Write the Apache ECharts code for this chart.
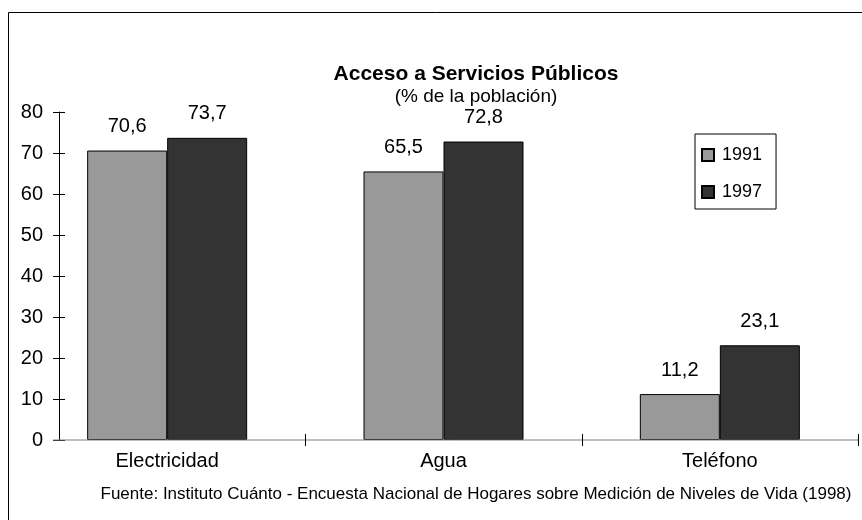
<!DOCTYPE html>
<html>
<head>
<meta charset="utf-8">
<script src="https://cdn.jsdelivr.net/npm/echarts@6/dist/echarts.min.js"></script>
<style>
  html, body { margin: 0; padding: 0; background: #fff; }
  #main { width: 862px; height: 520px; }
</style>
</head>
<body>
<div id="main"></div>
<script>
// datos
var categories = ['Electricidad', 'Agua', 'Teléfono'];
var seriesNames = ['1991', '1997'];
var values1991 = [70.6, 65.5, 11.2];
var values1997 = [73.7, 72.8, 23.1];
var yMin = 0, yMax = 80, yStep = 10;

var FONT = '"Liberation Sans", Arial, sans-serif';
var gridLeft = 29, gridRight = 4, gridTop = 112, gridBottom = 80;
var axisShift = 30; // el eje Y queda desplazado hacia dentro

function coma(p) {
  return p.value.toFixed(1).replace('.', ',');
}

var myChart = echarts.init(document.getElementById('main'));

var option = {
  animation: false,
  textStyle: { fontFamily: FONT, color: '#000' },
  title: [
    {
      text: 'Acceso a Servicios Públicos',
      subtext: '(% de la población)',
      left: 476,
      textAlign: 'center',
      top: 64,
      itemGap: 2,
      padding: 0,
      textStyle: { fontFamily: FONT, fontSize: 21, fontWeight: 'bold', color: '#000' },
      subtextStyle: { fontFamily: FONT, fontSize: 19, color: '#000' }
    },
    {
      text: 'Fuente: Instituto Cuánto - Encuesta Nacional de Hogares sobre Medición de Niveles de Vida (1998)',
      left: 476,
      textAlign: 'center',
      top: 486,
      padding: 0,
      textStyle: { fontFamily: FONT, fontSize: 17, fontWeight: 'normal', color: '#000' }
    }
  ],
  legend: {
    orient: 'vertical',
    left: 695,
    top: 134,
    padding: [12, 14, 8, 6],
    itemGap: 19,
    itemWidth: 12,
    itemHeight: 12,
    borderColor: '#000',
    borderWidth: 1,
    backgroundColor: '#fff',
    icon: 'rect',
    textStyle: { fontFamily: FONT, fontSize: 18, color: '#000', padding: [0, 0, 0, 3] },
    data: seriesNames
  },
  grid: { left: gridLeft, right: gridRight, top: gridTop, bottom: gridBottom },
  xAxis: {
    type: 'category',
    data: categories,
    axisLine: { show: false },
    axisTick: { show: false },
    axisLabel: { fontFamily: FONT, fontSize: 20, color: '#000', margin: 11 }
  },
  yAxis: [
    {
      type: 'value',
      min: yMin, max: yMax, interval: yStep,
      offset: -axisShift,
      splitLine: { show: false },
      axisLine: { show: true, lineStyle: { color: '#000', width: 1 } },
      axisTick: { show: true, length: 6, lineStyle: { color: '#000' } },
      axisLabel: { fontFamily: FONT, fontSize: 20, color: '#000', margin: 16 }
    },
    {
      type: 'value',
      position: 'left',
      min: yMin, max: yMax, interval: yStep,
      offset: -axisShift,
      splitLine: { show: false },
      axisLine: { show: false },
      axisTick: { show: true, inside: true, length: 6, lineStyle: { color: '#000' } },
      axisLabel: { show: false }
    }
  ],
  series: [
    {
      name: seriesNames[0],
      type: 'bar',
      data: values1991,
      barWidth: 80,
      barGap: '0%',
      itemStyle: { color: '#999999', borderColor: '#000', borderWidth: 1 },
      label: { show: true, position: 'top', distance: 14, formatter: coma,
               fontFamily: FONT, fontSize: 20, color: '#000' }
    },
    {
      name: seriesNames[1],
      type: 'bar',
      data: values1997,
      barWidth: 80,
      barGap: '0%',
      itemStyle: { color: '#333333', borderColor: '#000', borderWidth: 1 },
      label: { show: true, position: 'top', distance: 14, formatter: coma,
               fontFamily: FONT, fontSize: 20, color: '#000' }
    }
  ]
};

myChart.setOption(option);

// línea del eje X y marcas de separación entre categorías
var y0 = myChart.convertToPixel({ yAxisIndex: 0 }, 0);
var centers = categories.map(function (c, i) {
  return myChart.convertToPixel({ xAxisIndex: 0 }, i);
});
var halfBand = (centers[1] - centers[0]) / 2;
var axisX = gridLeft + axisShift;
var xEnd = centers[centers.length - 1] + halfBand;
var graphics = [
  { type: 'rect', shape: { x: 8.5, y: 12.5, width: 1000, height: 1000 }, silent: true, z: -10,
    style: { fill: 'none', stroke: '#000', lineWidth: 1 } },
  { type: 'line', shape: { x1: axisX - 6, y1: y0, x2: xEnd, y2: y0 }, z: 5,
    style: { stroke: '#808080', lineWidth: 1 } }
];
for (var i = 0; i < centers.length; i++) {
  var tx = Math.round(centers[i] + halfBand) + 0.5;
  graphics.push({ type: 'line', shape: { x1: tx, y1: y0 - 6, x2: tx, y2: y0 + 6 }, z: 5,
    style: { stroke: '#000', lineWidth: 1 } });
}
myChart.setOption({ graphic: graphics });
</script>
</body>
</html>
